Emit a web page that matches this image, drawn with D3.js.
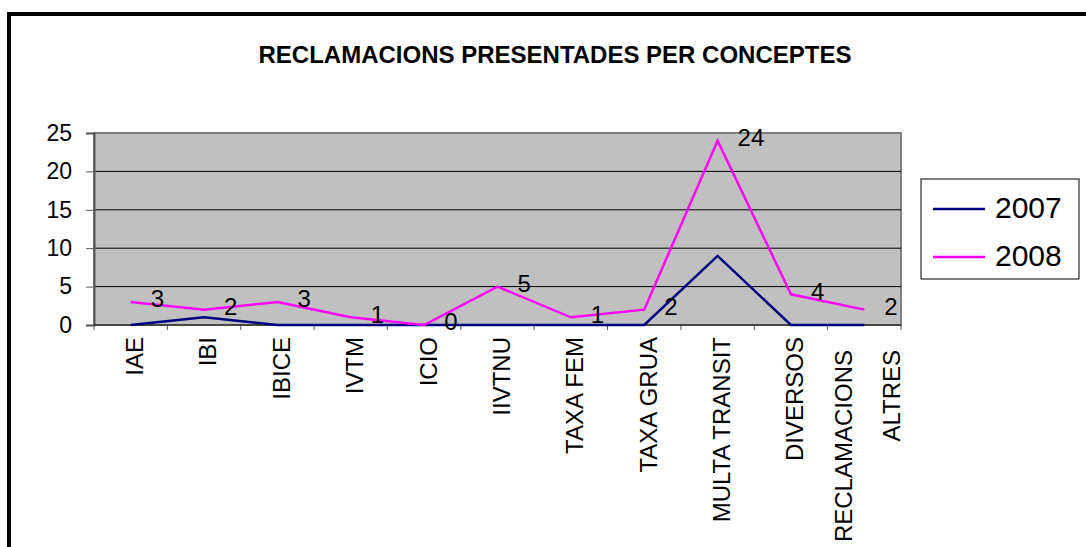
<!DOCTYPE html>
<html>
<head>
<meta charset="utf-8">
<script src="https://cdn.jsdelivr.net/npm/d3@7"></script>
<style>
  body { margin: 0; background: #fff; }
  text { font-family: Arial, "Liberation Sans", sans-serif; fill: #000; }
</style>
</head>
<body>
<div id="chart-area"></div>
<script>
// DATA-----------------------------------------------------------------------
const categories = ["IAE", "IBI", "IBICE", "IVTM", "ICIO", "IIVTNU", "TAXA FEM",
  "TAXA GRUA", "MULTA TRANSIT", "DIVERSOS", "RECLAMACIONS ALTRES"]
const values2007 = [0, 1, 0, 0, 0, 0, 0, 0, 9, 0, 0]
const values2008 = [3, 2, 3, 1, 0, 5, 1, 2, 24, 4, 2]
const yTicks = [0, 5, 10, 15, 20, 25]
const seriesNames = ["2007", "2008"]
const seriesColors = ["#000080", "#ff00ff"]

// SVG / FRAME----------------------------------------------------------------
const W = 1086, H = 547
const PLOT = { LEFT: 94, RIGHT: 901, TOP: 133, BOTTOM: 325 }

const svg = d3.select("#chart-area").append("svg")
  .attr("width", W)
  .attr("height", H)

// outer chart border (only left and top are inside the picture)
svg.append("rect")
  .attr("x", 9).attr("y", 14)
  .attr("width", 1200).attr("height", 700)
  .attr("fill", "none")
  .attr("stroke", "#000")
  .attr("stroke-width", 4)

svg.append("text")
  .attr("x", 555).attr("y", 63)
  .attr("text-anchor", "middle")
  .style("font-size", "24px")
  .style("font-weight", "bold")
  .text("RECLAMACIONS PRESENTADES PER CONCEPTES")

// SCALES---------------------------------------------------------------------
const xScale = d3.scaleBand()
  .domain(categories)
  .range([PLOT.LEFT, PLOT.RIGHT])
const xMid = d => xScale(d) + xScale.bandwidth() / 2

const yScale = d3.scaleLinear()
  .domain([0, 25])
  .range([PLOT.BOTTOM, PLOT.TOP])

// PLOT AREA------------------------------------------------------------------
svg.append("rect")
  .attr("x", PLOT.LEFT).attr("y", PLOT.TOP)
  .attr("width", PLOT.RIGHT - PLOT.LEFT)
  .attr("height", PLOT.BOTTOM - PLOT.TOP)
  .attr("fill", "#c0c0c0")
  .attr("stroke", "#808080")
  .attr("stroke-width", 2)

// gridlines
svg.append("g").selectAll("line")
  .data(yTicks.filter(t => t > 0 && t < 25))
  .enter().append("line")
  .attr("x1", PLOT.LEFT).attr("x2", PLOT.RIGHT)
  .attr("y1", d => yScale(d)).attr("y2", d => yScale(d))
  .attr("stroke", "#000")
  .attr("stroke-width", 1)

// Y AXIS
const yAxis = d3.axisLeft(yScale).tickValues(yTicks).tickSize(8).tickPadding(14)
const gY = svg.append("g")
  .attr("transform", `translate(${PLOT.LEFT}, 0)`)
  .call(yAxis)
gY.select(".domain").attr("stroke", "#555").attr("stroke-width", 2)
gY.selectAll(".tick line").attr("stroke", "#555")
gY.selectAll(".tick text")
  .style("font-size", "23px")
  .attr("font-family", null)

// X AXIS (ticks on the category boundaries)
const gX = svg.append("g")
svg.append("line")
  .attr("x1", PLOT.LEFT).attr("x2", PLOT.RIGHT)
  .attr("y1", PLOT.BOTTOM).attr("y2", PLOT.BOTTOM)
  .attr("stroke", "#333").attr("stroke-width", 1.5)
gX.selectAll("line")
  .data(categories.concat(["__end"]))
  .enter().append("line")
  .attr("x1", (d, i) => i < categories.length ? xScale(d) : PLOT.RIGHT)
  .attr("x2", (d, i) => i < categories.length ? xScale(d) : PLOT.RIGHT)
  .attr("y1", PLOT.BOTTOM).attr("y2", PLOT.BOTTOM + 5)
  .attr("stroke", "#555")

// category labels, rotated; wrap long ones onto two lines
const labels = svg.append("g").selectAll("text")
  .data(categories)
  .enter().append("text")
  .attr("transform", d => `translate(${xMid(d) + 4}, 337) rotate(-90)`)
  .attr("text-anchor", "end")
  .style("font-size", "24px")
labels.each(function(d) {
  const t = d3.select(this)
  t.text(d)
  if (this.getComputedTextLength() > 230) {
    const parts = d.split(" ")
    t.text(null)
    t.append("tspan").attr("x", -13).attr("y", -25).attr("dy", "0.35em").text(parts[0])
    t.append("tspan").attr("x", -13).attr("y", 23).attr("dy", "0.35em").text(parts.slice(1).join(" "))
  } else {
    t.attr("dy", "0.35em")
  }
})

// LINES----------------------------------------------------------------------
const line = d3.line()
  .x((d, i) => xMid(categories[i]))
  .y(d => yScale(d))

const series = [values2007, values2008]
svg.append("g").selectAll("path")
  .data(series)
  .enter().append("path")
  .attr("d", d => line(d))
  .attr("fill", "none")
  .attr("stroke", (d, i) => seriesColors[i])
  .attr("stroke-width", 2.5)

// data labels for 2008
svg.append("g").selectAll("text")
  .data(values2008)
  .enter().append("text")
  .attr("x", (d, i) => xMid(categories[i]) + 20)
  .attr("y", d => yScale(d) - 3)
  .attr("dy", "0.35em")
  .style("font-size", "24px")
  .text(d => d)

// LEGEND---------------------------------------------------------------------
const legend = svg.append("g")
legend.append("rect")
  .attr("x", 921).attr("y", 179)
  .attr("width", 158).attr("height", 100)
  .attr("fill", "#fff")
  .attr("stroke", "#000")
  .attr("stroke-width", 1)
const legendY = d3.scalePoint().domain(seriesNames).range([209, 257])
const items = legend.selectAll("g.item")
  .data(seriesNames)
  .enter().append("g").attr("class", "item")
items.append("line")
  .attr("x1", 933).attr("x2", 985)
  .attr("y1", d => legendY(d)).attr("y2", d => legendY(d))
  .attr("stroke", (d, i) => seriesColors[i])
  .attr("stroke-width", 2.5)
items.append("text")
  .attr("x", 995)
  .attr("y", d => legendY(d) - 2)
  .attr("dy", "0.35em")
  .style("font-size", "30px")
  .text(d => d)
</script>
</body>
</html>
